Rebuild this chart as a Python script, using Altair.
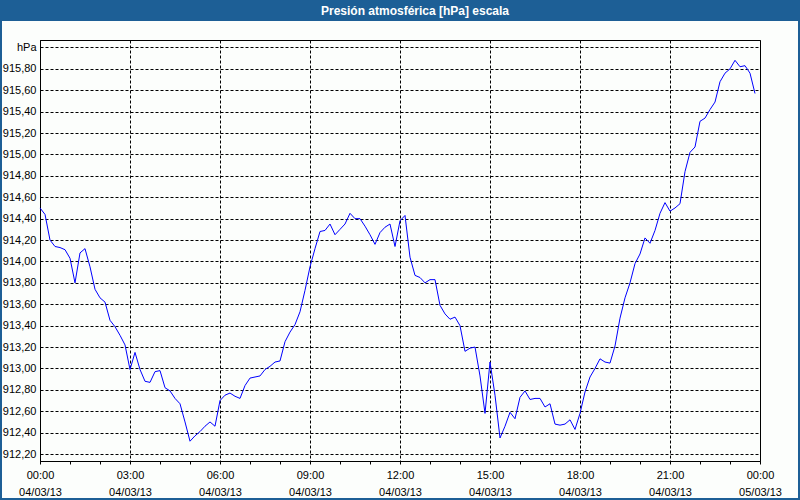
import altair as alt
import pandas as pd

titulo = "Presión atmosférica [hPa] escala"

# 10-minute samples, 04/03/13 00:00 .. 23:50
minutos = list(range(0, 1440, 10))
presion = [
    914.50, 914.44, 914.20, 914.14, 914.13, 914.11, 914.03, 913.80, 914.08, 914.12,
    913.95, 913.74, 913.66, 913.62, 913.45, 913.39, 913.31, 913.22, 912.99, 913.15,
    912.99, 912.88, 912.87, 912.97, 912.98, 912.82, 912.79, 912.72, 912.67, 912.50,
    912.32, 912.37, 912.41, 912.46, 912.50, 912.46, 912.70, 912.75, 912.77, 912.74,
    912.72, 912.84, 912.91, 912.92, 912.93, 912.99, 913.02, 913.06, 913.07, 913.25,
    913.34, 913.41, 913.53, 913.73, 913.95, 914.12, 914.28, 914.29, 914.35, 914.25,
    914.30, 914.35, 914.45, 914.40, 914.40, 914.33, 914.25, 914.16, 914.27, 914.32,
    914.35, 914.14, 914.38, 914.43, 914.04, 913.87, 913.85, 913.80, 913.83, 913.83,
    913.59, 913.51, 913.46, 913.48, 913.40, 913.16, 913.19, 913.20, 912.93, 912.58,
    913.06, 912.75, 912.35, 912.46, 912.59, 912.53, 912.73, 912.79, 912.71, 912.72,
    912.72, 912.64, 912.67, 912.48, 912.47, 912.48, 912.52, 912.43, 912.58, 912.78,
    912.92, 913.00, 913.09, 913.06, 913.05, 913.21, 913.47, 913.66, 913.80, 913.98,
    914.07, 914.22, 914.17, 914.29, 914.45, 914.55, 914.47, 914.50, 914.54, 914.84,
    915.02, 915.07, 915.31, 915.34, 915.42, 915.49, 915.68, 915.76, 915.80, 915.88,
    915.82, 915.83, 915.76, 915.57,
]
y_ticks = [912.2, 912.4, 912.6, 912.8, 913.0, 913.2, 913.4, 913.6, 913.8, 914.0,
           914.2, 914.4, 914.6, 914.8, 915.0, 915.2, 915.4, 915.6, 915.8, 916.0]
x_ticks = list(range(25))

df = pd.DataFrame({"hora": [m / 60 for m in minutos], "valor": presion})
deco = pd.DataFrame({"t": [titulo]})

FONT = "Liberation Sans"
BLUE = "#1d5f96"

line = alt.Chart(df).mark_line(color="#0000ff", strokeWidth=1).encode(
    x=alt.X(
        "hora:Q",
        scale=alt.Scale(domain=[0, 24], nice=False, zero=False),
        axis=alt.Axis(
            values=x_ticks,
            title=None,
            grid=True,
            gridOpacity={"condition": {"test": "datum.value % 3 == 0", "value": 1}, "value": 0},
            gridDash=[3, 2],
            gridColor="black",
            gridWidth=1,
            tickSize=3,
            tickColor="black",
            domainColor="black",
            labelColor="black",
            labelFont=FONT,
            labelFontSize=11,
            labelLineHeight=17,
            labelPadding=5,
            labelOverlap=False,
            labelFlush=False,
            labelExpr="datum.value % 3 == 0 ? [((datum.value % 24) < 10 ? '0' : '') + (datum.value % 24) + ':00', datum.value == 24 ? '05/03/13' : '04/03/13'] : ''",
        ),
    ),
    y=alt.Y(
        "valor:Q",
        scale=alt.Scale(domain=[912.135, 916.07], nice=False, zero=False),
        axis=alt.Axis(
            values=y_ticks,
            title=None,
            grid=True,
            gridDash=[3, 2],
            gridColor="black",
            gridWidth=1,
            ticks=False,
            domainColor="black",
            labelColor="black",
            labelFont=FONT,
            labelFontSize=11,
            labelPadding=4,
            labelExpr="datum.value > 915.9 ? 'hPa' : replace(format(datum.value, '.2f'), '.', ',')",
        ),
    ),
)

bar = alt.Chart(deco).mark_rect(color=BLUE).encode(
    x=alt.value(-40), x2=alt.value(760), y=alt.value(-40), y2=alt.value(-19)
)
border = alt.Chart(deco).mark_rect(fillOpacity=0, stroke=BLUE, strokeWidth=2).encode(
    x=alt.value(-39), x2=alt.value(759), y=alt.value(-39), y2=alt.value(459)
)
title_text = alt.Chart(deco).mark_text(
    color="white", font=FONT, fontSize=12, fontWeight="bold", align="center", baseline="middle"
).encode(x=alt.value(375), y=alt.value(-29), text="t:N")

chart = (
    alt.layer(bar, border, line, title_text)
    .properties(
        width=720,
        height=421,
        padding={"left": 40, "top": 40, "right": 40, "bottom": 39},
        autosize="none",
        background="#fcfefc",
    )
    .configure_view(stroke="black", strokeWidth=1)
)

chart.save("out.html", embed_options={"renderer": "svg", "actions": False})
